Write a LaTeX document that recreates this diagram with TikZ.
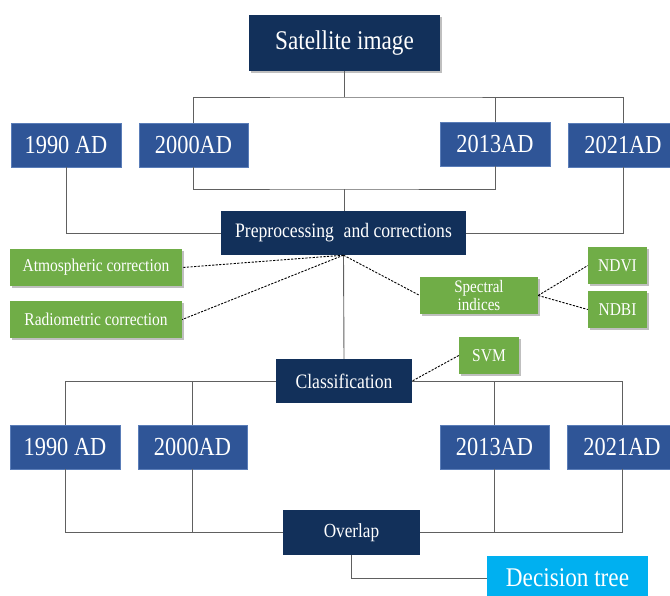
\documentclass[tikz,border=0pt]{standalone}
\usepackage{fontspec}
\setmainfont{Liberation Serif}
\usetikzlibrary{shadows}
\definecolor{navy}{HTML}{12305A}
\definecolor{yearblue}{HTML}{2F5597}
\definecolor{yearedge}{HTML}{5A7DB8}
\definecolor{grn}{HTML}{70AD47}
\definecolor{cyanbox}{HTML}{00B0F0}
\definecolor{linegray}{HTML}{606060}
\newcommand{\nar}[1]{\scalebox{0.86}[1]{#1}}
\tikzset{
  box/.style={inner sep=0pt, text=white, align=center},
  navybox/.style={box, fill=navy},
  yearbox/.style={box, fill=yearblue, draw=yearedge, line width=0.6pt, font=\fontsize{26}{28}\selectfont},
  greenbox/.style={box, fill=grn, font=\fontsize{18}{18.5}\selectfont,
    drop shadow={shadow xshift=2pt, shadow yshift=-2pt, fill=black, opacity=0.25}},
  conn/.style={draw=linegray, line width=0.9pt},
  dashconn/.style={draw=black, line width=0.9pt, dash pattern=on 2.2pt off 1.4pt},
}
\begin{document}
\begin{tikzpicture}[x=1pt, y=-1pt]
\useasboundingbox (0,0) rectangle (670,595);
% top
\node[navybox, minimum width=191pt, minimum height=56pt, font=\fontsize{27}{30}\selectfont,
  drop shadow={shadow xshift=2pt, shadow yshift=-2pt, fill=black, opacity=0.25}] (sat) at (344.5,43) {\nar{Satellite image}};
\node[yearbox, minimum width=110pt, minimum height=44pt] (a1) at (66,145) {\nar{1990 AD}};
\node[yearbox, minimum width=109pt, minimum height=44pt] (b1) at (193.5,145) {\nar{2000AD}};
\node[yearbox, minimum width=110pt, minimum height=44pt] (c1) at (495,144) {\nar{2013AD}};
\node[yearbox, minimum width=110pt, minimum height=44pt] (d1) at (623,145) {\nar{2021AD}};
\node[navybox, minimum width=245pt, minimum height=44pt, font=\fontsize{20.5}{22}\selectfont] (pre) at (343.5,233) {\nar{Preprocessing\hspace{0.3em} and corrections}};
% green
\node[greenbox, minimum width=172pt, minimum height=37pt] (atm) at (96,267.5) {\nar{Atmospheric correction}};
\node[greenbox, minimum width=172pt, minimum height=37pt] (rad) at (96,319.5) {\nar{Radiometric correction}};
\node[greenbox, minimum width=118pt, minimum height=37pt, font=\fontsize{17.5}{17.5}\selectfont] (spec) at (479,295.5) {\nar{Spectral}\\\nar{indices}};
\node[greenbox, minimum width=59pt, minimum height=37pt] (ndvi) at (617.5,265.5) {\nar{NDVI}};
\node[greenbox, minimum width=59pt, minimum height=37pt] (ndbi) at (617.5,309.5) {\nar{NDBI}};
\node[greenbox, minimum width=60pt, minimum height=37pt] (svm) at (489,355.5) {\nar{SVM}};
% classification
\node[navybox, minimum width=136pt, minimum height=44pt, font=\fontsize{20.5}{22}\selectfont] (cls) at (344,381) {\nar{Classification}};
\node[yearbox, minimum width=110pt, minimum height=44pt] (a2) at (65,447) {\nar{1990 AD}};
\node[yearbox, minimum width=109pt, minimum height=44pt] (b2) at (192.5,447) {\nar{2000AD}};
\node[yearbox, minimum width=109pt, minimum height=44pt] (c2) at (494.5,447) {\nar{2013AD}};
\node[yearbox, minimum width=110pt, minimum height=44pt] (d2) at (622,447) {\nar{2021AD}};
\node[navybox, minimum width=137pt, minimum height=45pt, font=\fontsize{20}{22}\selectfont] (ovl) at (351.5,532.5) {\nar{Overlap}};
\node[box, fill=cyanbox, minimum width=161pt, minimum height=44pt, font=\fontsize{27}{28}\selectfont] (dt) at (567.5,578) {\nar{Decision tree}};
% junctions
\coordinate (j1) at (344.5,97);
\coordinate (j2) at (344,189);
% connectors top
\draw[conn] (sat.south) -- (j1);
\draw[conn] (b1.north) |- (j1) -| (d1.north);
\draw[conn] (c1.north) -- (c1.north |- j1);
\draw[conn] (b1.south) |- (j2) -| (c1.south);
\draw[conn] (j2) -- (j2 |- pre.north);
\draw[conn] (a1.south) |- (pre.west);
\draw[conn] (d1.south) |- (pre.east);
\draw[conn] (pre.south) -- (cls.north);
% dashed
\draw[dashconn] (pre.south) -- (atm.east);
\draw[dashconn] (pre.south) -- (rad.east);
\draw[dashconn] (pre.south) -- (spec.west);
\draw[dashconn] (spec.east) -- (ndvi.west);
\draw[dashconn] (spec.east) -- (ndbi.west);
\draw[dashconn] (svm.west) -- (cls.east);
% classification to years
\draw[conn] (cls.west) -| (a2.north);
\draw[conn] (b2.north) -- (b2.north |- cls.west);
\draw[conn] (cls.east) -| (d2.north);
\draw[conn] (c2.north) -- (c2.north |- cls.east);
% years to overlap
\draw[conn] (a2.south) |- (ovl.west);
\draw[conn] (b2.south) -- (b2.south |- ovl.west);
\draw[conn] (d2.south) |- (ovl.east);
\draw[conn] (c2.south) -- (c2.south |- ovl.east);
\draw[conn] (ovl.south) |- (dt.west);
\end{tikzpicture}
\end{document}
